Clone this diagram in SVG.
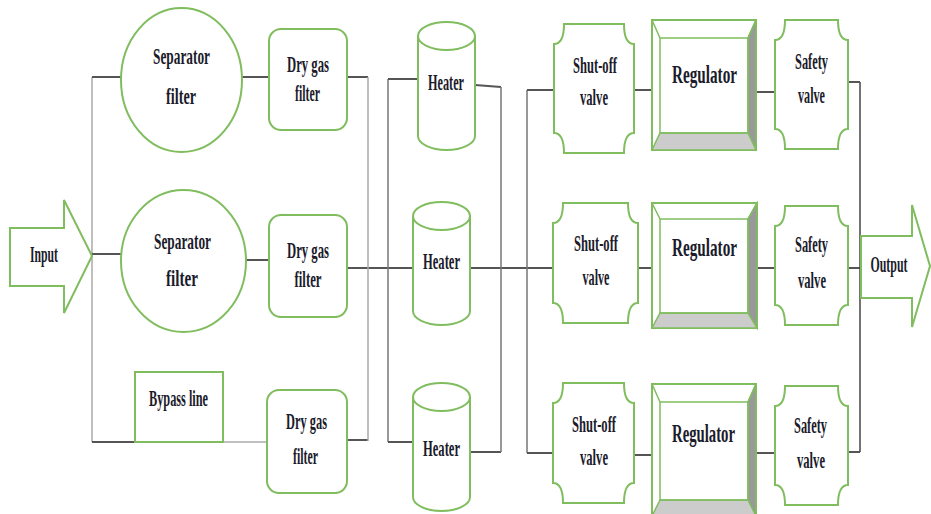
<svg xmlns="http://www.w3.org/2000/svg" width="931" height="514" viewBox="0 0 931 514">
<style>
.g{fill:#fff;stroke:#80bd5e;stroke-width:2}
.gn{fill:none;stroke:#80bd5e;stroke-width:2}
.h{fill:none;stroke:#555;stroke-width:2}
.v{fill:none;stroke:#777;stroke-width:1.5}
.vl{fill:none;stroke:#aaa;stroke-width:1.5}
.d{fill:#999;stroke:#80bd5e;stroke-width:1.5}
.l{fill:#ccc;stroke:#80bd5e;stroke-width:1.5}
text{font-family:"Liberation Serif","Times New Roman",serif;font-size:24px;font-weight:bold;fill:#1b1b2b;text-anchor:middle}
.r{font-size:26px}
</style>
<rect width="931" height="514" fill="#fff"/>
<g id="connectors">
<path class="vl" d="M92,77 V442"/>
<path class="h" d="M92,77 H121 M92,254 H121 M242,77 H269 M347,77 H368 M246,260 H269 M347,268 H413 M92,442 H135 M347,440 H368"/>
<path class="vl" d="M223,442 H267"/>
<path class="vl" d="M368,77 V441"/>
<path class="v" d="M388,79 V442"/>
<path class="h" d="M388,79 H418 M388,442 H413 M475,85 L501,87 M470,268 H553 M470,452 H501"/>
<path class="v" d="M501,87 V452 M527,90 V453"/>
<path class="h" d="M527,90 H554 M527,453 H553 M634,90 H652 M638,268 H652 M634,455 H652 M756,92 H775 M757,268 H775 M756,453 H775 M848,82 H860 M848,268 H861 M848,452 H860"/>
<path class="v" d="M860,82 V452" style="stroke:#444"/>
</g>
<g id="input">
<polygon class="g" points="10,228 64,228 64,200 92,256 64,313 64,286 10,286"/>
<text x="44" y="262" textLength="28" lengthAdjust="spacingAndGlyphs">Input</text>
</g>
<g id="separator1">
<ellipse class="g" cx="181.5" cy="80" rx="60.5" ry="72"/>
<text x="181.5" y="64" textLength="57" lengthAdjust="spacingAndGlyphs">Separator</text>
<text x="181" y="104" textLength="30" lengthAdjust="spacingAndGlyphs">filter</text>
</g>
<g id="separator2">
<ellipse class="g" cx="183.5" cy="261" rx="62.5" ry="71"/>
<text x="182.5" y="249" textLength="57" lengthAdjust="spacingAndGlyphs">Separator</text>
<text x="182" y="286" textLength="32" lengthAdjust="spacingAndGlyphs">filter</text>
</g>
<g id="bypass">
<rect class="gn" x="135" y="372" width="88" height="70"/>
<text x="178.5" y="406" textLength="59" lengthAdjust="spacingAndGlyphs">Bypass line</text>
</g>
<g id="drygas1">
<rect class="g" x="269" y="29" width="78" height="101" rx="12"/>
<text x="308" y="72" textLength="42" lengthAdjust="spacingAndGlyphs">Dry gas</text>
<text x="307.5" y="101" textLength="25" lengthAdjust="spacingAndGlyphs">filter</text>
</g>
<g id="drygas2">
<rect class="g" x="269" y="215" width="78" height="102" rx="12"/>
<text x="308" y="258" textLength="42" lengthAdjust="spacingAndGlyphs">Dry gas</text>
<text x="308" y="287" textLength="27" lengthAdjust="spacingAndGlyphs">filter</text>
</g>
<g id="drygas3">
<rect class="g" x="267" y="390" width="80" height="103" rx="12"/>
<text x="306.5" y="429" textLength="41" lengthAdjust="spacingAndGlyphs">Dry gas</text>
<text x="305.5" y="464" textLength="25" lengthAdjust="spacingAndGlyphs">filter</text>
</g>
<g id="heater1">
<path class="g" d="M418,36 A28.5,14 0 0 1 475,36 V136 A28.5,14 0 0 1 418,136 Z M418,36 A28.5,14 0 0 0 475,36"/>
<text x="446" y="90" textLength="36" lengthAdjust="spacingAndGlyphs">Heater</text>
</g>
<g id="heater2">
<path class="g" d="M413,216 A28.5,14 0 0 1 470,216 V311 A28.5,14 0 0 1 413,311 Z M413,216 A28.5,14 0 0 0 470,216"/>
<text x="441.5" y="269" textLength="37" lengthAdjust="spacingAndGlyphs">Heater</text>
</g>
<g id="heater3">
<path class="g" d="M413,397 A28.5,14 0 0 1 470,397 V497 A28.5,14 0 0 1 413,497 Z M413,397 A28.5,14 0 0 0 470,397"/>
<text x="441.5" y="456" textLength="37" lengthAdjust="spacingAndGlyphs">Heater</text>
</g>
<g id="shutoff1">
<path class="g" d="M564,24 H624 Q624,44 634,44 V133 Q624,133 624,153 H564 Q564,133 554,133 V44 Q564,44 564,24 Z"/>
<text x="595" y="73" textLength="44" lengthAdjust="spacingAndGlyphs">Shut-off</text>
<text x="594" y="105" textLength="28" lengthAdjust="spacingAndGlyphs">valve</text>
</g>
<g id="shutoff2">
<path class="g" d="M563,203 H628 Q628,223 638,223 V303 Q628,303 628,323 H563 Q563,303 553,303 V223 Q563,223 563,203 Z"/>
<text x="596" y="251" textLength="44" lengthAdjust="spacingAndGlyphs">Shut-off</text>
<text x="596" y="285" textLength="27" lengthAdjust="spacingAndGlyphs">valve</text>
</g>
<g id="shutoff3">
<path class="g" d="M563,383 H624 Q624,403 634,403 V483 Q624,483 624,503 H563 Q563,483 553,483 V403 Q563,403 563,383 Z"/>
<text x="594" y="432" textLength="44" lengthAdjust="spacingAndGlyphs">Shut-off</text>
<text x="594" y="465" textLength="28" lengthAdjust="spacingAndGlyphs">valve</text>
</g>
<g id="regulator1">
<rect class="g" x="652" y="20" width="104" height="130"/>
<polygon class="d" points="756,20 756,150 748,133 748,38"/>
<polygon class="l" points="652,150 756,150 748,133 660,133"/>
<path class="gn" d="M652,20 L660,38 M756,20 L748,38" style="stroke-width:1.5"/>
<rect class="gn" x="660" y="38" width="88" height="95" style="stroke-width:1.5"/>
<text class="r" x="704.5" y="83" textLength="65" lengthAdjust="spacingAndGlyphs">Regulator</text>
</g>
<g id="regulator2">
<rect class="g" x="652" y="203" width="105" height="125"/>
<polygon class="d" points="757,203 757,328 748,313 748,219"/>
<polygon class="l" points="652,328 757,328 748,313 660,313"/>
<path class="gn" d="M652,203 L660,219 M757,203 L748,219" style="stroke-width:1.5"/>
<rect class="gn" x="660" y="219" width="88" height="94" style="stroke-width:1.5"/>
<text class="r" x="704.5" y="256" textLength="65" lengthAdjust="spacingAndGlyphs">Regulator</text>
</g>
<g id="regulator3">
<rect class="g" x="652" y="384" width="104" height="132"/>
<polygon class="d" points="756,384 756,516 748,500 748,402"/>
<polygon class="l" points="652,516 756,516 748,500 660,500"/>
<path class="gn" d="M652,384 L660,402 M756,384 L748,402" style="stroke-width:1.5"/>
<rect class="gn" x="660" y="402" width="88" height="98" style="stroke-width:1.5"/>
<text class="r" x="703.5" y="442" textLength="63" lengthAdjust="spacingAndGlyphs">Regulator</text>
</g>
<g id="safety1">
<path class="g" d="M785,20 H838 Q838,40 848,40 V129 Q838,129 838,149 H785 Q785,129 775,129 V40 Q785,40 785,20 Z"/>
<text x="811.5" y="69" textLength="33" lengthAdjust="spacingAndGlyphs">Safety</text>
<text x="811.5" y="103" textLength="27" lengthAdjust="spacingAndGlyphs">valve</text>
</g>
<g id="safety2">
<path class="g" d="M785,206 H838 Q838,226 848,226 V305 Q838,305 838,325 H785 Q785,305 775,305 V226 Q785,226 785,206 Z"/>
<text x="811.5" y="252" textLength="33" lengthAdjust="spacingAndGlyphs">Safety</text>
<text x="812" y="288" textLength="28" lengthAdjust="spacingAndGlyphs">valve</text>
</g>
<g id="safety3">
<path class="g" d="M785,386 H838 Q838,406 848,406 V485 Q838,485 838,505 H785 Q785,485 775,485 V406 Q785,406 785,386 Z"/>
<text x="810.5" y="433" textLength="33" lengthAdjust="spacingAndGlyphs">Safety</text>
<text x="811" y="468" textLength="28" lengthAdjust="spacingAndGlyphs">valve</text>
</g>
<g id="output">
<polygon class="g" points="861,236 912,236 912,205 930,266 912,327 912,298 861,298"/>
<text x="889" y="272" textLength="37" lengthAdjust="spacingAndGlyphs">Output</text>
</g>
</svg>
